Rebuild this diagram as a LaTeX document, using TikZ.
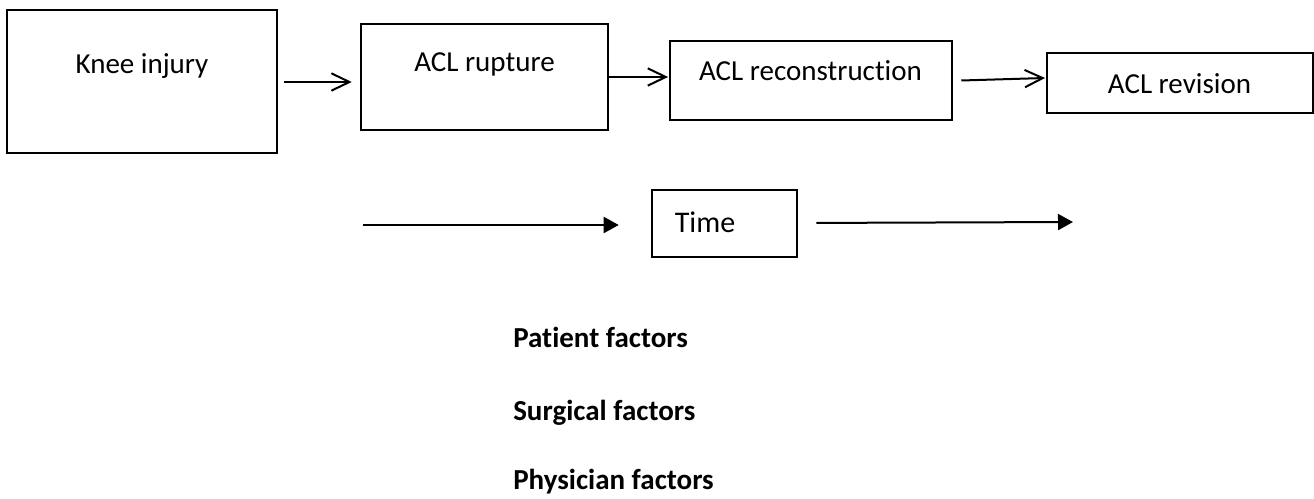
\documentclass[tikz,border=0pt]{standalone}
\usepackage{fontspec}
\setmainfont{Carlito}[Ligatures=NoCommon]
\usetikzlibrary{arrows.meta}
\begin{document}
\begin{tikzpicture}[x=0.75pt,y=-0.75pt,
  stagebox/.style={draw=black,line width=1.9pt,inner sep=0pt,fill=white},
  stagetext/.style={anchor=base,inner sep=0pt,font=\fontsize{21.75pt}{26pt}\selectfont},
  factortext/.style={anchor=base west,inner sep=0pt,font=\fontsize{21.75pt}{26pt}\selectfont\bfseries},
  flow/.style={line width=1.5pt,-{Straight Barb[length=13.5pt,width=13pt,line width=1.5pt]}},
  timeline/.style={line width=1.5pt,-{Triangle[length=11.25pt,width=12pt]}}]
  \useasboundingbox (0,0) rectangle (1314,499);

  % stage boxes
  \node[stagebox,minimum width=202.5pt,minimum height=107.25pt] (knee) at (142,81.5) {};
  \node[stagebox,minimum width=185.25pt,minimum height=79.5pt] (rupture) at (484.5,77) {};
  \node[stagebox,minimum width=211.5pt,minimum height=59.25pt] (recon) at (811,80.5) {};
  \node[stagebox,minimum width=199.5pt,minimum height=45pt] (revision) at (1180,83) {};

  % stage labels
  \node[stagetext] (kneeT) at (142,74) {Knee injury};
  \node[stagetext] (ruptureT) at (484.5,72) {ACL rupture};
  \node[stagetext] (reconT) at (810.5,81) {ACL reconstruction};
  \node[stagetext] (revisionT) at (1179.5,94) {ACL revision};

  % arrows between stages
  \coordinate (k1) at ([yshift=-0.375pt]knee.east);
  \draw[flow,shorten <=4.5pt,shorten >=6pt] (k1) -- (k1 -| rupture.west);
  \draw[flow,shorten >=0.5pt] (rupture.east) -- (rupture.east -| recon.west);
  \draw[flow] ([xshift=6pt]recon.east) -- ([yshift=3.75pt,xshift=-0.5pt]revision.west);

  % time axis
  \node[stagebox,minimum width=108.75pt,minimum height=50.25pt] (time) at (724.5,223.5) {};
  \node[stagetext,font=\fontsize{22.5pt}{27pt}\selectfont] (timeT) at (705,233) {Time};
  \coordinate (tstart) at (363,225);
  \coordinate (tend) at (1073,222);
  \draw[timeline,shorten >=24pt] (tstart) -- (tstart -| time.west);
  \draw[timeline,shorten <=13.5pt] (time.east |- 0,223) -- (tend);

  % factor list
  \node[factortext] (patient) at (513,347) {Patient factors};
  \node[factortext] (surgical) at (513,420) {Surgical factors};
  \node[factortext] (physician) at (513,489) {Physician factors};
\end{tikzpicture}
\end{document}
